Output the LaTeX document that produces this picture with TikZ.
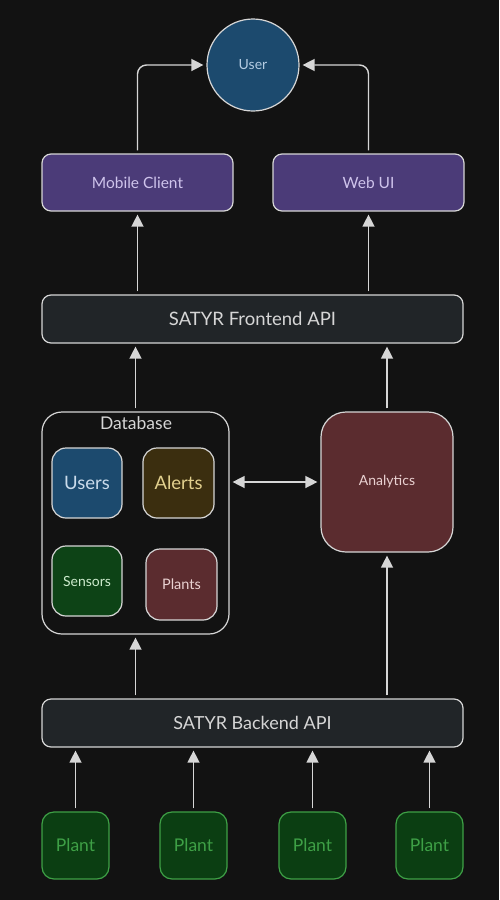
\documentclass[tikz,border=0pt]{standalone}
\usepackage{fontspec}
\setmainfont{Lato}
\usetikzlibrary{arrows.meta,calc}
\definecolor{BgClr}{HTML}{121212}
\definecolor{LineClr}{HTML}{D6D6D6}
\definecolor{UserClr}{HTML}{1C4A6E}
\definecolor{UserTxt}{HTML}{B4CCE2}
\definecolor{ClientClr}{HTML}{4B3B78}
\definecolor{ClientTxt}{HTML}{CFC4EC}
\definecolor{ApiClr}{HTML}{212528}
\definecolor{AlertClr}{HTML}{3B2E0F}
\definecolor{AlertTxt}{HTML}{E2D08E}
\definecolor{SensorClr}{HTML}{0D4316}
\definecolor{SensorTxt}{HTML}{CDEBCD}
\definecolor{RedClr}{HTML}{5B2C2F}
\definecolor{RedTxt}{HTML}{EAD2D2}
\definecolor{PlantClr}{HTML}{0B3E12}
\definecolor{PlantLine}{HTML}{3EA046}

\begin{document}
\begin{tikzpicture}[x=1pt,y=-1pt,
  box/.style={draw=LineClr,line width=1.2pt,rounded corners=9pt,inner sep=0pt,align=center},
  arr/.style={draw=LineClr,line width=1.4pt,-{Triangle[length=12pt,width=12pt]},shorten <=3pt,shorten >=3pt},
  plantbox/.style={box,draw=PlantLine,fill=PlantClr,text=PlantLine,minimum width=67pt,minimum height=67pt,rounded corners=12pt,font=\fontsize{17.5}{20}\selectfont}]
\useasboundingbox[fill=BgClr] (0,0) rectangle (499,900);

% top
\node[circle,draw=LineClr,line width=1.2pt,fill=UserClr,text=UserTxt,minimum size=92pt,inner sep=0pt,font=\fontsize{14}{16}\selectfont] (user) at (253,65) {User};
\node[box,fill=ClientClr,text=ClientTxt,minimum width=191pt,minimum height=57pt,font=\fontsize{15.5}{18}\selectfont] (mobile) at (137.5,182.5) {Mobile Client};
\node[box,fill=ClientClr,text=ClientTxt,minimum width=191pt,minimum height=57pt,font=\fontsize{15.5}{18}\selectfont] (web) at (368.5,182.5) {Web UI};

\node[box,fill=ApiClr,text=LineClr,minimum width=421pt,minimum height=48pt,font=\fontsize{18.5}{21}\selectfont] (front) at (252.5,319) {SATYR Frontend API};

% database
\node[box,fill=BgClr,minimum width=187pt,minimum height=222pt,rounded corners=20pt] (db) at (135.5,523) {};
\node[text=LineClr,font=\fontsize{17.5}{20}\selectfont] (dblabel) at (136,423) {Database};
\node[box,fill=UserClr,text=UserTxt!70!white,minimum width=70pt,minimum height=70pt,rounded corners=14pt,font=\fontsize{18.5}{21}\selectfont] (users) at (87,483) {Users};
\node[box,fill=AlertClr,text=AlertTxt,minimum width=71pt,minimum height=70pt,rounded corners=14pt,font=\fontsize{18.5}{21}\selectfont] (alerts) at (178.5,483) {Alerts};
\node[box,fill=SensorClr,text=SensorTxt,minimum width=70pt,minimum height=70pt,rounded corners=14pt,font=\fontsize{14}{16}\selectfont] (sensors) at (87,581) {Sensors};
\node[box,fill=RedClr,text=RedTxt,minimum width=71pt,minimum height=71pt,rounded corners=14pt,font=\fontsize{14.5}{17}\selectfont] (plants) at (181.5,584.5) {Plants};

\node[box,fill=RedClr,text=RedTxt,minimum width=132pt,minimum height=140pt,rounded corners=25pt,font=\fontsize{14}{16}\selectfont] (ana) at (387,482) {Analytics};

\node[box,fill=ApiClr,text=LineClr,minimum width=421pt,minimum height=48pt,font=\fontsize{18}{21}\selectfont] (back) at (252.5,723) {SATYR Backend API};

% plants
\node[plantbox] (p1) at (75.5,845.5) {Plant};
\node[plantbox] (p2) at (193.5,845.5) {Plant};
\node[plantbox] (p3) at (312.5,845.5) {Plant};
\node[plantbox] (p4) at (429.5,845.5) {Plant};

% connectors
\draw[arr,rounded corners=9pt] (mobile.north) |- (user.west);
\draw[arr,rounded corners=9pt] (web.north) |- (user.east);
\draw[arr] (front.north -| mobile) -- (mobile.south);
\draw[arr] (front.north -| web) -- (web.south);
\draw[arr] (db.north) -- (db.north |- front.south);
\draw[arr] (ana.north) -- (ana.north |- front.south);
\draw[arr,{Triangle[length=12pt,width=12pt]}-{Triangle[length=12pt,width=12pt]}] (ana.west -| db.east) -- (ana.west);
\draw[arr] (back.north -| db) -- (db.south);
\draw[arr] (back.north -| ana) -- (ana.south);
\foreach \p in {p1,p2,p3,p4}
  \draw[arr] (\p.north) -- (\p.north |- back.south);
\end{tikzpicture}
\end{document}
